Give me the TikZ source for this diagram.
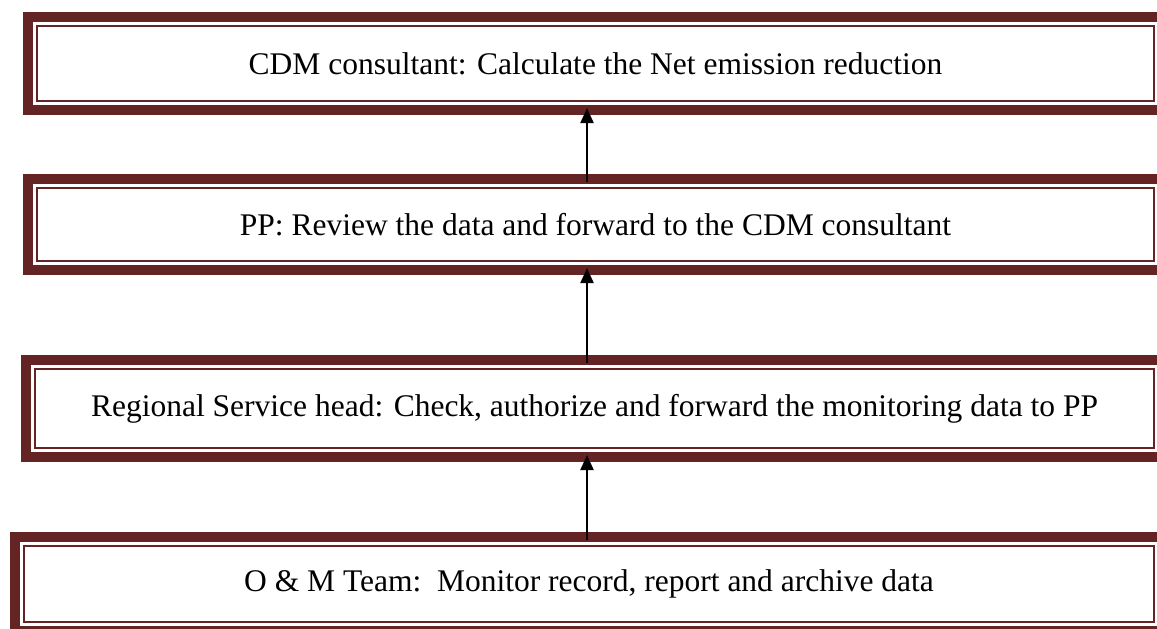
\documentclass[tikz,border=0pt]{standalone}
\usepackage{fontspec}
\setmainfont{Liberation Serif}
\usetikzlibrary{calc,arrows.meta}
\definecolor{framered}{RGB}{101,36,36}
\tikzset{
  stage/.style={draw=framered, line width=4pt, rectangle, inner sep=0pt,
    font=\fontsize{12.6}{15}\selectfont},
  innerline/.style={draw=framered, line width=0.8pt},
  flow/.style={line width=0.8pt, -{Triangle[length=6pt,width=5.2pt]},
    shorten >=-2.8pt, shorten <=-3pt}
}

\begin{document}
\begin{tikzpicture}[x=0.4pt, y=-0.4pt]
\useasboundingbox (0,0) rectangle (1157,628);
\clip (0,0) rectangle (1157,628);
% the four stages, bottom one first in the data flow
\node[stage, minimum width=454pt, minimum height=37.2pt] (cdm) at (595.5,63.5)
  {CDM consultant: Calculate the Net emission reduction};
\node[stage, minimum width=454pt, minimum height=36.4pt] (pp) at (595.5,224.5)
  {PP: Review the data and forward to the CDM consultant};
\node[stage, minimum width=454.8pt, minimum height=38.8pt] (head) at (594.5,408.5)
  {Regional Service head: Check, authorize and forward the monitoring data to PP};
\node[stage, minimum width=459.2pt, minimum height=37.6pt] (team) at (589,584)
  {O \& M Team:\ \ Monitor record, report and archive data};
% thin inner frames
\foreach \stg in {cdm,pp,head,team}
  \draw[innerline] ($(\stg.north west)+(14,14)$) rectangle ($(\stg.south east)+(-14,-14)$);
% arrows
\coordinate (axis) at (587,0);
\draw[flow] (axis |- team.north) -- (axis |- head.south);
\draw[flow] (axis |- head.north) -- (axis |- pp.south);
\draw[flow] (axis |- pp.north) -- (axis |- cdm.south);
\end{tikzpicture}
\end{document}
